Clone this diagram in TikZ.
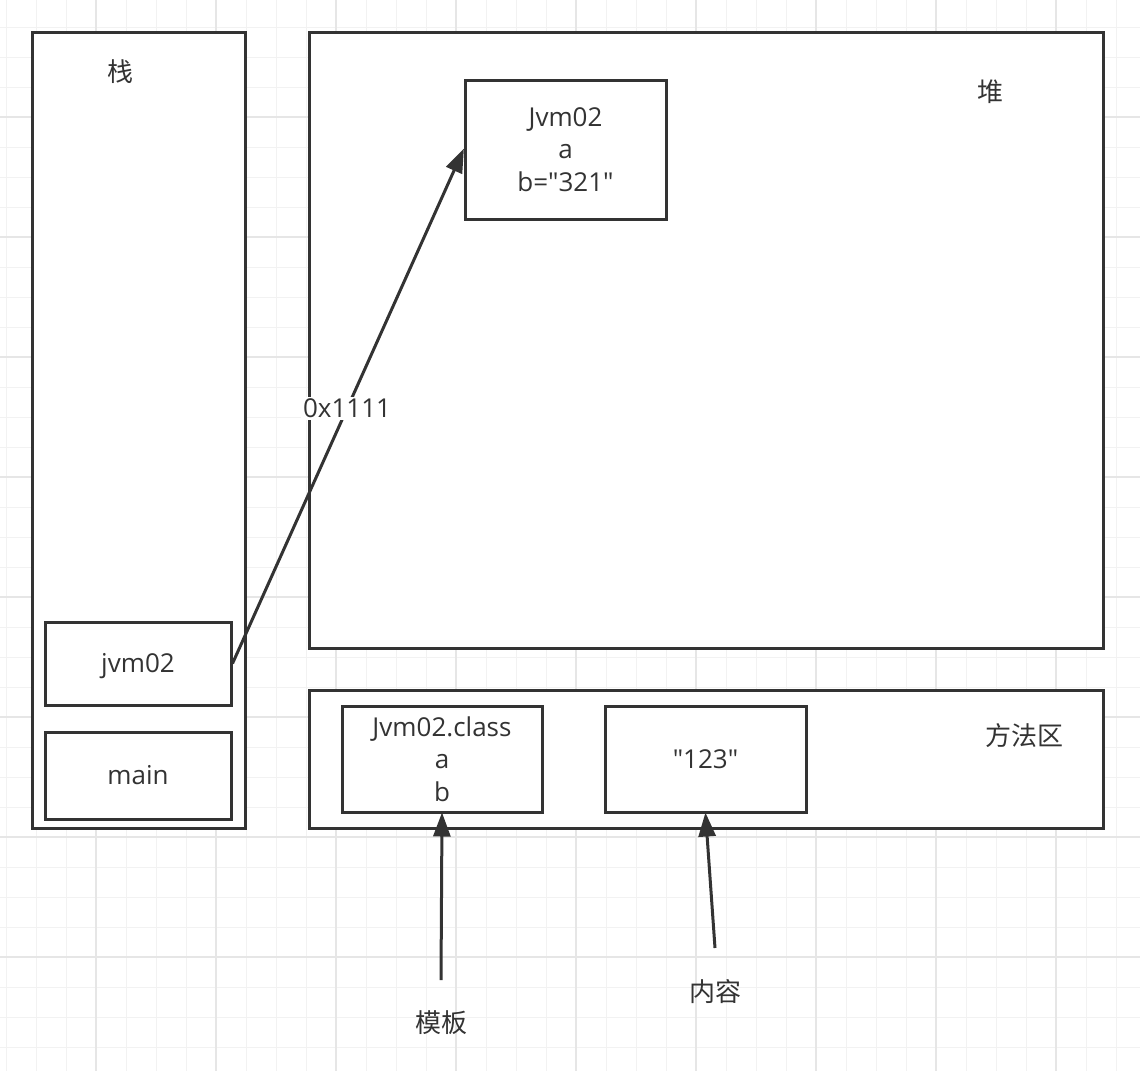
\documentclass[tikz,border=0pt]{standalone}
\usepackage{fontspec}
\setmainfont{Open Sans}[Ligatures=TeXOff]
\newfontfamily\cjk{Noto Sans CJK SC}
\usetikzlibrary{arrows.meta}
\definecolor{ink}{HTML}{333333}
\definecolor{gridminor}{HTML}{F2F2F2}
\definecolor{gridmajor}{HTML}{E6E6E6}
\newcommand\dq{\symbol{34}}
\tikzset{
  box/.style={draw=ink, line width=3pt, fill=white, rectangle, inner sep=0pt, align=center, text=ink},
  txt/.style={text=ink, inner sep=1pt, align=center},
  arr/.style={draw=ink, line width=3pt, -{Triangle[length=24pt,width=17pt]}, shorten >=-1pt},
  lbl/.style={fill=white, text=ink, inner sep=2pt},
}
\begin{document}
\begin{tikzpicture}[x=1pt,y=-1pt,font=\fontsize{26}{32.5}\selectfont]
\useasboundingbox (0,0) rectangle (1140,1071);
\fill[white] (0,0) rectangle (1140,1071);
\begin{scope}
\clip (0,0) rectangle (1140,1071);
\foreach \i in {0,...,38} {
  \draw[gridminor, line width=1pt] ({6+30*\i},0) -- ({6+30*\i},1071);
}
\foreach \i in {0,...,36} {
  \draw[gridminor, line width=1pt] (0,{-3+30*\i}) -- (1140,{-3+30*\i});
}
\foreach \i in {0,...,9} {
  \draw[gridmajor, line width=1.6pt] ({-24+120*\i},0) -- ({-24+120*\i},1071);
}
\foreach \i in {0,...,9} {
  \draw[gridmajor, line width=1.6pt] (0,{-3+120*\i}) -- (1140,{-3+120*\i});
}
\end{scope}

% containers
\node[box, minimum width=213pt, minimum height=796pt] (stack) at (138.5,430) {};
\node[box, minimum width=794pt, minimum height=616pt] (heap) at (706,340) {};
\node[box, minimum width=794pt, minimum height=138pt] (method) at (706,759) {};

\node[txt] (stacklbl) at (120,72) {\cjk 栈};
\node[txt] (heaplbl) at (990,92) {\cjk 堆};
\node[txt] (methodlbl) at (1024,736) {\cjk 方法区};

% inner boxes
\node[box, minimum width=201pt, minimum height=139pt] (obj) at (565.5,149.5) {Jvm02\\a\\b=\dq321\dq};
\node[box, minimum width=186pt, minimum height=83pt] (frame) at (138,663.5) {\raisebox{-3pt}[\height][\depth]{jvm02}};
\node[box, minimum width=186pt, minimum height=87pt] (main) at (138,775.5) {main};
\node[box, minimum width=200pt, minimum height=106pt] (cls) at (442,759) {Jvm02.class\\a\\b};
\node[box, minimum width=201pt, minimum height=106pt] (str) at (705.5,759) {\dq123\dq};

% connectors
\draw[arr] (frame.east) -- (obj.west) node[lbl, pos=0.496] (addr) {0x1111};

\coordinate (tplstart) at (441,980);
\coordinate (cntstart) at (715,948);
\draw[arr] (tplstart) -- (cls.south);
\draw[arr] (cntstart) -- (str.south);

\node[txt] (tpl) at (441,1023) {\cjk 模板};
\node[txt] (cnt) at (715,992) {\cjk 内容};
\end{tikzpicture}
\end{document}
